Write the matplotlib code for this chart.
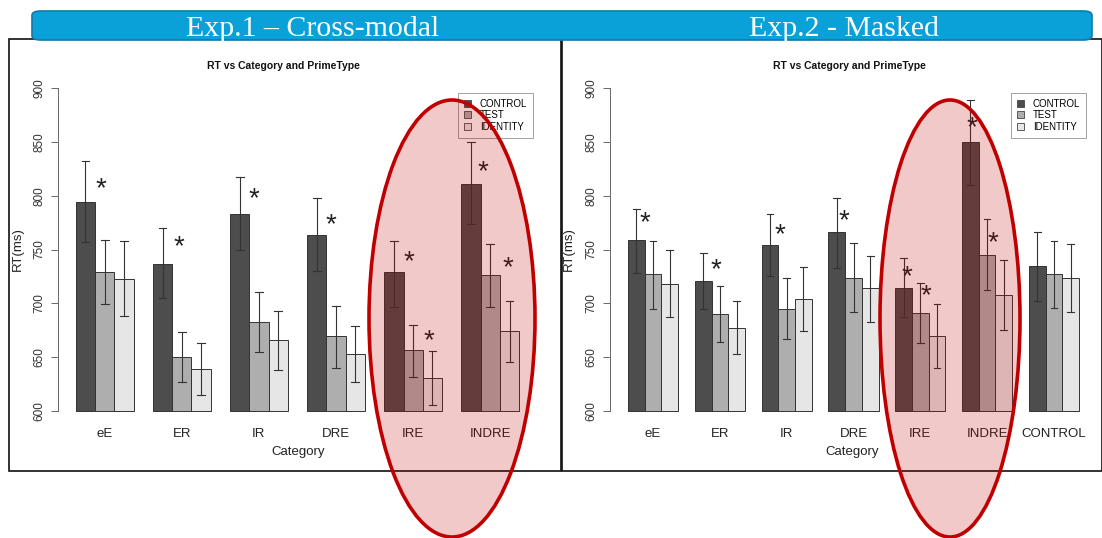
import matplotlib
matplotlib.use("Agg")
import matplotlib.pyplot as plt
from matplotlib.patches import Ellipse, FancyBboxPatch, Rectangle, Patch

plt.rcParams['font.family'] = ['Liberation Sans', 'DejaVu Sans']

# datos: RT medio por categoria y tipo de prime
prime_types = ["CONTROL", "TEST", "IDENTITY"]
colores = ["#4D4D4D", "#AEAEAE", "#E6E6E6"]

cat_exp1 = ["eE", "ER", "IR", "DRE", "IRE", "INDRE"]
exp1_control = [794, 737, 783, 763, 729, 811]
exp1_test = [729, 650, 683, 670, 657, 726]
exp1_ident = [723, 639, 666, 653, 631, 674]
exp1_control_err = [(757, 832), (705, 770), (750, 817), (730, 798), (697, 758), (774, 850)]
exp1_test_err = [(699, 759), (627, 673), (655, 711), (640, 698), (632, 680), (697, 755)]
exp1_ident_err = [(688, 758), (615, 663), (638, 693), (627, 679), (606, 656), (646, 702)]
# asteriscos (x en unidades de barra, y en ms)
exp1_stars = [(2.3, 806), (6.35, 752), (10.25, 797), (14.25, 773),
              (18.3, 738), (19.3, 665), (22.1, 822), (23.4, 733)]

cat_exp2 = ["eE", "ER", "IR", "DRE", "IRE", "INDRE", "CONTROL"]
exp2_control = [759, 721, 754, 766, 714, 850, 735]
exp2_test = [727, 690, 695, 724, 691, 745, 727]
exp2_ident = [718, 677, 704, 714, 670, 708, 724]
exp2_control_err = [(728, 788), (695, 747), (725, 783), (733, 798), (687, 742), (810, 889), (702, 766)]
exp2_test_err = [(695, 758), (664, 716), (667, 724), (692, 756), (663, 719), (712, 778), (696, 758)]
exp2_ident_err = [(687, 750), (653, 702), (674, 734), (683, 744), (640, 699), (675, 740), (692, 755)]
exp2_stars = [(2.0, 774), (6.25, 731), (10.07, 763), (13.95, 776),
              (17.7, 724), (18.85, 707), (21.6, 863), (22.85, 756)]

W, H = 1102, 538
fig = plt.figure(figsize=(W / 100, H / 100), dpi=100)


def fx(px):
    return px / W


def fy(py):
    return 1 - py / H


def panel(ax, cats, series, errs, stars):
    n = len(cats)
    for k, (vals, err) in enumerate(zip(series, errs)):
        xs = [1.5 + 4 * g + k for g in range(n)]
        ax.bar(xs, [v - 600 for v in vals], bottom=600, width=1.0,
               color=colores[k], edgecolor="#333333", linewidth=0.7, zorder=2)
        for x, (lo, hi) in zip(xs, err):
            ax.plot([x, x], [lo, hi], color="#333333", lw=0.8, zorder=3)
            ax.plot([x - 0.2, x + 0.2], [lo, lo], color="#333333", lw=0.8, zorder=3)
            ax.plot([x - 0.2, x + 0.2], [hi, hi], color="#333333", lw=0.8, zorder=3)
    for sx, sy in stars:
        ax.text(sx, sy, "*", fontsize=20, ha="center", va="center", color="#222222")
    total = 4 * n
    pad = (total - 1) * 0.04
    ax.set_xlim(1 - pad, total + pad)
    ax.set_ylim(588, 912)
    ax.set_xticks([2.5 + 4 * g for g in range(n)])
    ax.set_xticklabels(cats, fontsize=9.5, color="#222222")
    ax.tick_params(axis="x", length=0, pad=3)
    ax.set_yticks([600, 650, 700, 750, 800, 850, 900])
    ax.set_yticklabels(["600", "650", "700", "750", "800", "850", "900"],
                       rotation=90, va="center", fontsize=8.5, color="#333333")
    ax.tick_params(axis="y", length=5, width=0.7, color="#666666", pad=4)
    for s in ["top", "right", "bottom"]:
        ax.spines[s].set_visible(False)
    ax.spines["left"].set_bounds(600, 900)
    ax.spines["left"].set_color("#666666")
    ax.spines["left"].set_linewidth(0.7)
    ax.set_facecolor("none")
    leg = ax.legend(handles=[Patch(facecolor=c, edgecolor="#444444", linewidth=0.6) for c in colores],
                    labels=prime_types, fontsize=7, frameon=True, fancybox=False,
                    edgecolor="#888888", handlelength=0.75, handleheight=0.75,
                    handletextpad=0.9, labelspacing=0.15, borderpad=0.6,
                    borderaxespad=0, loc="upper right", bbox_transform=fig.transFigure)
    leg.get_frame().set_linewidth(0.7)
    leg.set_zorder(5)
    return leg


ax1 = fig.add_axes([fx(58), fy(424), fx(537 - 58), (424 - 75) / H])
leg1 = panel(ax1, cat_exp1, [exp1_control, exp1_test, exp1_ident],
             [exp1_control_err, exp1_test_err, exp1_ident_err], exp1_stars)
leg1.set_bbox_to_anchor((fx(533), fy(93)), transform=fig.transFigure)

ax2 = fig.add_axes([fx(610), fy(424), fx(1097 - 610), (424 - 75) / H])
leg2 = panel(ax2, cat_exp2, [exp2_control, exp2_test, exp2_ident],
             [exp2_control_err, exp2_test_err, exp2_ident_err], exp2_stars)
leg2.set_bbox_to_anchor((fx(1086), fy(93)), transform=fig.transFigure)

# titulos y etiquetas de cada panel
for cx, tx, yx in [(283, 298, 18), (849, 852, 569)]:
    fig.text(fx(cx), fy(66), "RT vs Category and PrimeType", fontsize=7.5,
             fontweight="bold", ha="center", va="center", color="#111111")
    fig.text(fx(tx), fy(452), "Category", fontsize=9.5, ha="center", va="center", color="#222222")
    fig.text(fx(yx), fy(249), "RT(ms)", fontsize=9.5, rotation=90, ha="center", va="center",
             color="#222222")

# marcos de los paneles
for x0, x1 in [(9, 561), (562, 1102)]:
    fig.add_artist(Rectangle((fx(x0), fy(471)), fx(x1 - x0), (471 - 39) / H,
                             fill=False, edgecolor="#111111", linewidth=1.2,
                             transform=fig.transFigure))

# banda azul superior
fig.add_artist(FancyBboxPatch((fx(32), fy(40)), fx(1092 - 32), (40 - 11) / H,
                              boxstyle="round,pad=0,rounding_size=0.008",
                              facecolor="#0AA0D8", edgecolor="#1778A8", linewidth=1.2,
                              transform=fig.transFigure, mutation_aspect=H / W * 2))
fig.text(fx(313), fy(26.5), "Exp.1 \u2013 Cross-modal", fontsize=21.5, family="Liberation Serif",
         color="white", ha="center", va="center_baseline")
fig.text(fx(844), fy(26.5), "Exp.2 - Masked", fontsize=21.5, family="Liberation Serif",
         color="white", ha="center", va="center_baseline")

# elipses rojas resaltando IRE e INDRE
for cx, cy, w, h in [(452, 318.5, 166, 437), (950, 318.5, 140, 437)]:
    fig.add_artist(Ellipse((fx(cx), fy(cy)), fx(w), h / H, facecolor=(0.76, 0, 0, 0.21),
                           edgecolor="#C00000", linewidth=2.6, transform=fig.transFigure,
                           zorder=10))

fig.savefig("out.png", dpi=100)
